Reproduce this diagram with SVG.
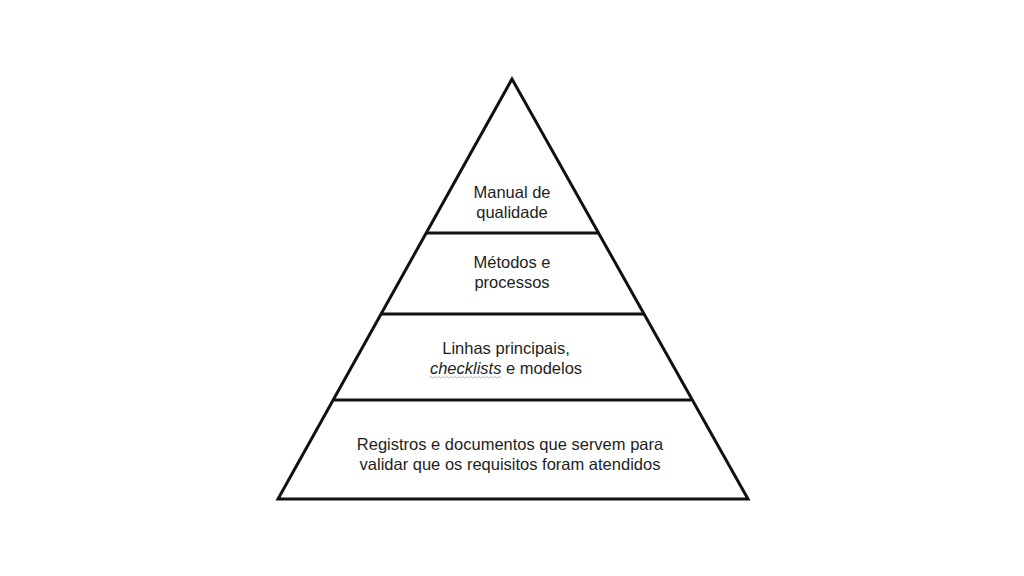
<svg xmlns="http://www.w3.org/2000/svg" width="1024" height="576" viewBox="0 0 1024 576">
<style>
.t{font-family:"Liberation Sans",Arial,sans-serif;font-size:16.5px;fill:#1e1e1e;text-anchor:middle}
.e{stroke:#111;stroke-width:3;fill:none;stroke-linejoin:miter}
</style>
<rect width="1024" height="576" fill="#fff"/>
<g id="pyramid">
<polygon class="e" points="512,79 278,499 748,499"/>
</g>
<g id="connectors">
<line class="e" x1="426" y1="233" x2="598" y2="233"/>
<line class="e" x1="381" y1="314" x2="643" y2="314"/>
<line class="e" x1="333" y1="400" x2="691" y2="400"/>
</g>
<g id="level1">
<text class="t" x="512" y="198">Manual de</text>
<text class="t" x="512" y="218">qualidade</text>
</g>
<g id="level2">
<text class="t" x="512" y="268">Métodos e</text>
<text class="t" x="512" y="288">processos</text>
</g>
<g id="level3">
<text class="t" x="506" y="354">Linhas principais,</text>
<text class="t" x="506" y="374"><tspan font-style="italic">checklists</tspan> e modelos</text>
<path d="M429,378 l2,-1.5 l2,1.5 l2,-1.5 l2,1.5 l2,-1.5 l2,1.5 l2,-1.5 l2,1.5 l2,-1.5 l2,1.5 l2,-1.5 l2,1.5 l2,-1.5 l2,1.5 l2,-1.5 l2,1.5 l2,-1.5 l2,1.5 l2,-1.5 l2,1.5 l2,-1.5 l2,1.5 l2,-1.5 l2,1.5 l2,-1.5 l2,1.5 l2,-1.5 l2,1.5 l2,-1.5 l2,1.5 l2,-1.5 l2,1.5 l2,-1.5 l2,1.5 l2,-1.5 l2,1.5" fill="none" stroke="#aaa" stroke-width="0.8"/>
</g>
<g id="level4">
<text class="t" x="510" y="450">Registros e documentos que servem para</text>
<text class="t" x="510" y="470">validar que os requisitos foram atendidos</text>
</g>
</svg>
